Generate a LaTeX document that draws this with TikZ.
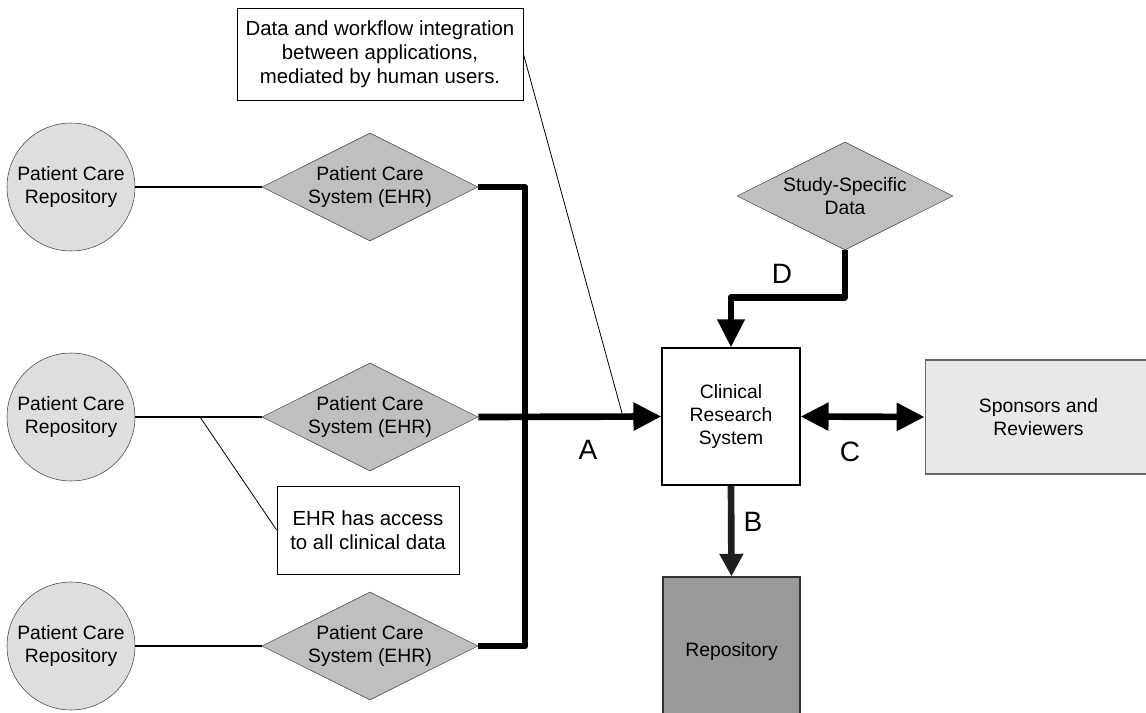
\documentclass[tikz,border=0pt]{standalone}
\usepackage{fontspec}
\setmainfont{Liberation Sans}
\usetikzlibrary{shapes.geometric,arrows.meta}

\tikzset{
  pcrepo/.style={circle,draw=black!75,fill=black!13,minimum size=96pt,inner sep=0pt,align=center},
  ehr/.style={diamond,draw=black!75,fill=black!25,aspect=2,minimum width=162pt,minimum height=81pt,inner sep=0pt,align=center},
  note/.style={rectangle,draw,fill=white,line width=0.6pt,align=center,font=\fontsize{15.3}{18.2}\selectfont},
  lbl/.style={font=\fontsize{21}{25}\selectfont},
  link/.style={line width=1.8pt},
  flow/.style={line width=5pt,line join=round},
  lead/.style={line width=0.6pt},
  bigtip/.style={-{Triangle[length=21pt,width=20pt]}},
}

\begin{document}
\begin{tikzpicture}[x=0.75pt,y=-0.75pt,font=\fontsize{14.5}{17.5}\selectfont]
\useasboundingbox (0,0) rectangle (1146,713);

\node[pcrepo] (pcr1) at (71,187) {Patient Care\\Repository};
\node[pcrepo] (pcr2) at (71,417) {Patient Care\\Repository};
\node[pcrepo] (pcr3) at (71,646) {Patient Care\\Repository};

\node[ehr] (pcs1) at (370,187) {Patient Care\\System (EHR)};
\node[ehr] (pcs2) at (370,417) {Patient Care\\System (EHR)};
\node[ehr] (pcs3) at (370,646) {Patient Care\\System (EHR)};

\node[ehr] (ssd) at (845,196) {Study-Specific\\Data};

\node[rectangle,draw,line width=0.8pt,fill=white,minimum width=103.5pt,minimum height=102.75pt,align=center] (crs) at (731,416.5) {Clinical\\Research\\System};
\node[rectangle,draw=black!60,line width=0.8pt,fill=black!9,minimum width=170pt,minimum height=85.5pt,align=center] (spons) at (1038.5,417) {Sponsors and\\Reviewers};
\node[rectangle,draw=black!80,line width=0.8pt,fill=black!40,minimum width=102.75pt,minimum height=112.5pt] (repo) at (731.5,652) {\raisebox{4.5pt}{Repository}};

\node[note,minimum width=214.5pt,minimum height=69pt] (note1) at (380,54) {Data and workflow integration\\between applications,\\mediated by human users.};
\node[note,minimum width=136.5pt,minimum height=66pt] (note2) at (368,530) {EHR has access\\to all clinical data};

\coordinate (bustop) at (525,187);
\coordinate (busbot) at (525,646);
\coordinate (ptA) at (622,413);
\coordinate (ptlink) at (200,417);

\draw[link] (pcr1) -- (pcs1);
\draw[link] (pcr2) -- (pcs2);
\draw[link] (pcr3) -- (pcs3);

\draw[flow] (pcs1.east) -- (bustop) -- (busbot) -- (pcs3.east);
\draw[flow,bigtip] (pcs2.east) -- (crs.west);
\draw[flow,-{Triangle[length=21pt,width=19.5pt]}] (ssd.south) -- ++(0,47) -| (crs.north);
\draw[flow,draw=black!88,-{Triangle[length=17pt,width=17pt]}] (crs.south) -- (repo.north);
\draw[flow,{Triangle[length=21pt,width=20pt]}-{Triangle[length=21pt,width=20pt]}] (crs.east) -- (spons.west);

\draw[lead] (note1.east) -- (ptA);
\draw[lead] (note2.west) -- (ptlink);

\node[lbl] (lA) at (588,450) {A};
\node[lbl] (lB) at (753,522) {B};
\node[lbl] (lC) at (850,452) {C};
\node[lbl] (lD) at (782,274) {D};
\end{tikzpicture}
\end{document}
